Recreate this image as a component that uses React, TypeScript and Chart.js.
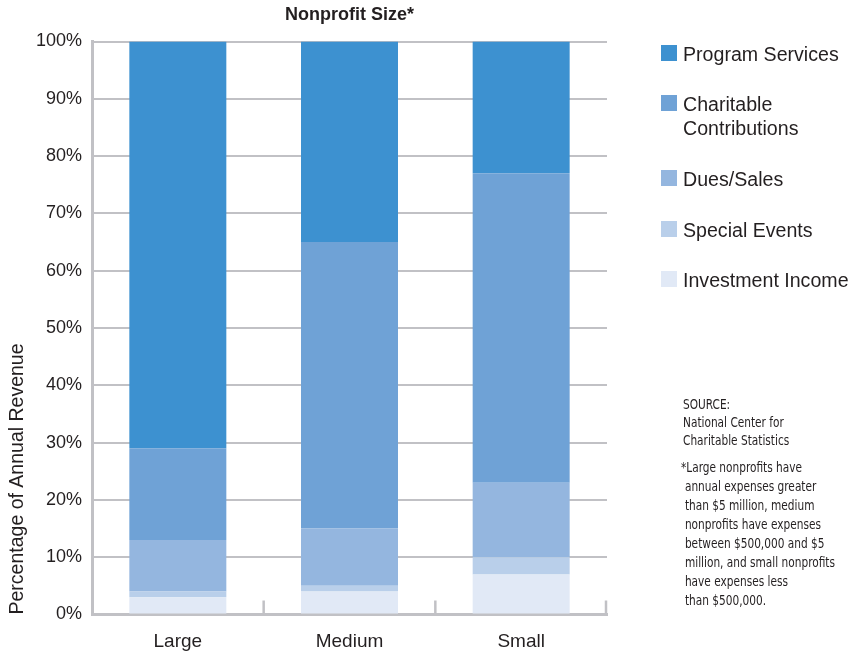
import React, { useEffect, useRef } from "react";
import { Chart, registerables } from "chart.js";

Chart.register(...registerables);

// Revenue mix by nonprofit size (percent of annual revenue)
const categories = ["Large", "Medium", "Small"];
const investmentIncome = [3, 4, 7];
const specialEvents = [1, 1, 3];
const duesSales = [9, 10, 13];
const charitableContributions = [16, 50, 54];
const programServices = [71, 35, 23];

const seriesNames = [
  "Investment Income",
  "Special Events",
  "Dues/Sales",
  "Charitable Contributions",
  "Program Services",
];
const seriesColors = ["#e1e9f6", "#b9cfea", "#94b6df", "#6fa2d6", "#3d91d0"];

// Legend rows, top to bottom; each row may wrap onto several lines
const legendRows: string[][] = [
  ["Program Services"],
  ["Charitable", "Contributions"],
  ["Dues/Sales"],
  ["Special Events"],
  ["Investment Income"],
];
const legendColors = ["#3d91d0", "#6fa2d6", "#94b6df", "#b9cfea", "#e1e9f6"];

const sourceLines = ["SOURCE:", "National Center for", "Charitable Statistics"];
const footnoteLines = [
  "*Large nonprofits have",
  "annual expenses greater",
  "than $5 million, medium",
  "nonprofits have expenses",
  "between $500,000 and $5",
  "million, and small nonprofits",
  "have expenses less",
  "than $500,000.",
];

const chartTitle = "Nonprofit Size*";
const yAxisTitle = "Percentage of Annual Revenue";

const W = 864;
const H = 653;
const GRID = "#c1c1c5";
const TEXT = "#231f20";
const SANS = "'Liberation Sans', Arial, Helvetica, sans-serif";
const NARROW =
  "'Liberation Sans Narrow', 'Arial Narrow', 'DejaVu Sans Condensed', 'Liberation Sans', sans-serif";

// Short upward tick marks on the baseline at each category boundary
const boundaryTicks = {
  id: "boundaryTicks",
  afterDatasetsDraw(chart: any) {
    const { ctx, chartArea, scales } = chart;
    const x = scales.x;
    const n = categories.length;
    ctx.save();
    ctx.strokeStyle = GRID;
    ctx.lineWidth = 2.5;
    for (let i = 0; i < n; i++) {
      const px =
        i === n - 1
          ? chartArea.right - 1
          : (x.getPixelForValue(i) + x.getPixelForValue(i + 1)) / 2;
      ctx.beginPath();
      ctx.moveTo(px, chartArea.bottom);
      ctx.lineTo(px, chartArea.bottom - 14);
      ctx.stroke();
    }
    ctx.restore();
  },
};

// Bold heading centred over the plot area
const plotHeading = {
  id: "plotHeading",
  afterDraw(chart: any) {
    const { ctx, chartArea } = chart;
    ctx.save();
    ctx.font = `bold 18px ${SANS}`;
    ctx.fillStyle = TEXT;
    ctx.textAlign = "center";
    ctx.textBaseline = "middle";
    ctx.fillText(chartTitle, (chartArea.left + chartArea.right) / 2, 15);
    ctx.restore();
  },
};

export default function App() {
  const canvasRef = useRef<HTMLCanvasElement | null>(null);

  useEffect(() => {
    const canvas = canvasRef.current;
    if (!canvas) return;
    const seriesValues = [
      investmentIncome,
      specialEvents,
      duesSales,
      charitableContributions,
      programServices,
    ];
    const chart = new Chart(canvas, {
      type: "bar",
      data: {
        labels: categories,
        datasets: seriesValues.map((values, i) => ({
          label: seriesNames[i],
          data: values,
          backgroundColor: seriesColors[i],
          borderWidth: 0,
          barPercentage: 0.565,
          categoryPercentage: 1,
        })),
      },
      options: {
        animation: false,
        responsive: false,
        devicePixelRatio: 1,
        layout: { padding: { top: 41.5, right: W - 607, bottom: 0, left: 0 } },
        plugins: {
          legend: { display: false },
          title: { display: false },
          tooltip: { enabled: false },
        },
        scales: {
          x: {
            stacked: true,
            grid: { display: false, drawTicks: false },
            border: { display: true, color: GRID, width: 3 },
            ticks: {
              color: TEXT,
              font: { family: SANS, size: 19 },
              padding: 16,
            },
            afterFit: (s: any) => {
              s.height = H - 614.5;
            },
          },
          y: {
            stacked: true,
            min: 0,
            max: 100,
            grid: { color: GRID, lineWidth: 2, drawTicks: false },
            border: { display: true, color: GRID, width: 3 },
            ticks: {
              stepSize: 10,
              color: TEXT,
              font: { family: SANS, size: 18 },
              padding: 10,
              callback: (v: any) => `${v}%`,
            },
            title: {
              display: true,
              text: yAxisTitle,
              align: "start",
              color: TEXT,
              font: { family: SANS, size: 19.5 },
              padding: { top: 6, bottom: 0 },
            },
            afterFit: (s: any) => {
              s.width = 92;
            },
          },
        },
      },
      plugins: [boundaryTicks, plotHeading],
    });
    return () => chart.destroy();
  }, []);

  const squareTops = [45, 95, 170, 221, 271];

  const noteStyle: React.CSSProperties = {
    position: "absolute",
    fontFamily: NARROW,
    fontSize: 13.5,
    color: TEXT,
    whiteSpace: "nowrap",
    transform: "scaleX(0.87)",
    transformOrigin: "0 0",
  };

  return (
    <div
      style={{
        position: "absolute",
        left: 0,
        top: 0,
        width: W,
        height: H,
        background: "#ffffff",
        overflow: "hidden",
      }}
    >
      <canvas
        ref={canvasRef}
        width={W}
        height={H}
        style={{ position: "absolute", left: 0, top: 0, width: W, height: H }}
      />
      {legendRows.map((lines, i) => (
        <div key={lines[0]}>
          <div
            style={{
              position: "absolute",
              left: 661,
              top: squareTops[i],
              width: 16,
              height: 16,
              background: legendColors[i],
            }}
          />
          <div
            style={{
              position: "absolute",
              left: 683,
              top: squareTops[i] - 2.8,
              fontFamily: SANS,
              fontSize: 19.6,
              lineHeight: "24px",
              color: TEXT,
              whiteSpace: "nowrap",
            }}
          >
            {lines.map((t) => (
              <div key={t}>{t}</div>
            ))}
          </div>
        </div>
      ))}
      <div style={{ ...noteStyle, left: 683, top: 395, lineHeight: "18px" }}>
        {sourceLines.map((t) => (
          <div key={t}>{t}</div>
        ))}
      </div>
      <div style={{ ...noteStyle, left: 681, top: 458, lineHeight: "19px" }}>
        {footnoteLines.map((t, i) => (
          <div key={t} style={{ paddingLeft: i === 0 ? 0 : 4.5 }}>
            {t}
          </div>
        ))}
      </div>
    </div>
  );
}
